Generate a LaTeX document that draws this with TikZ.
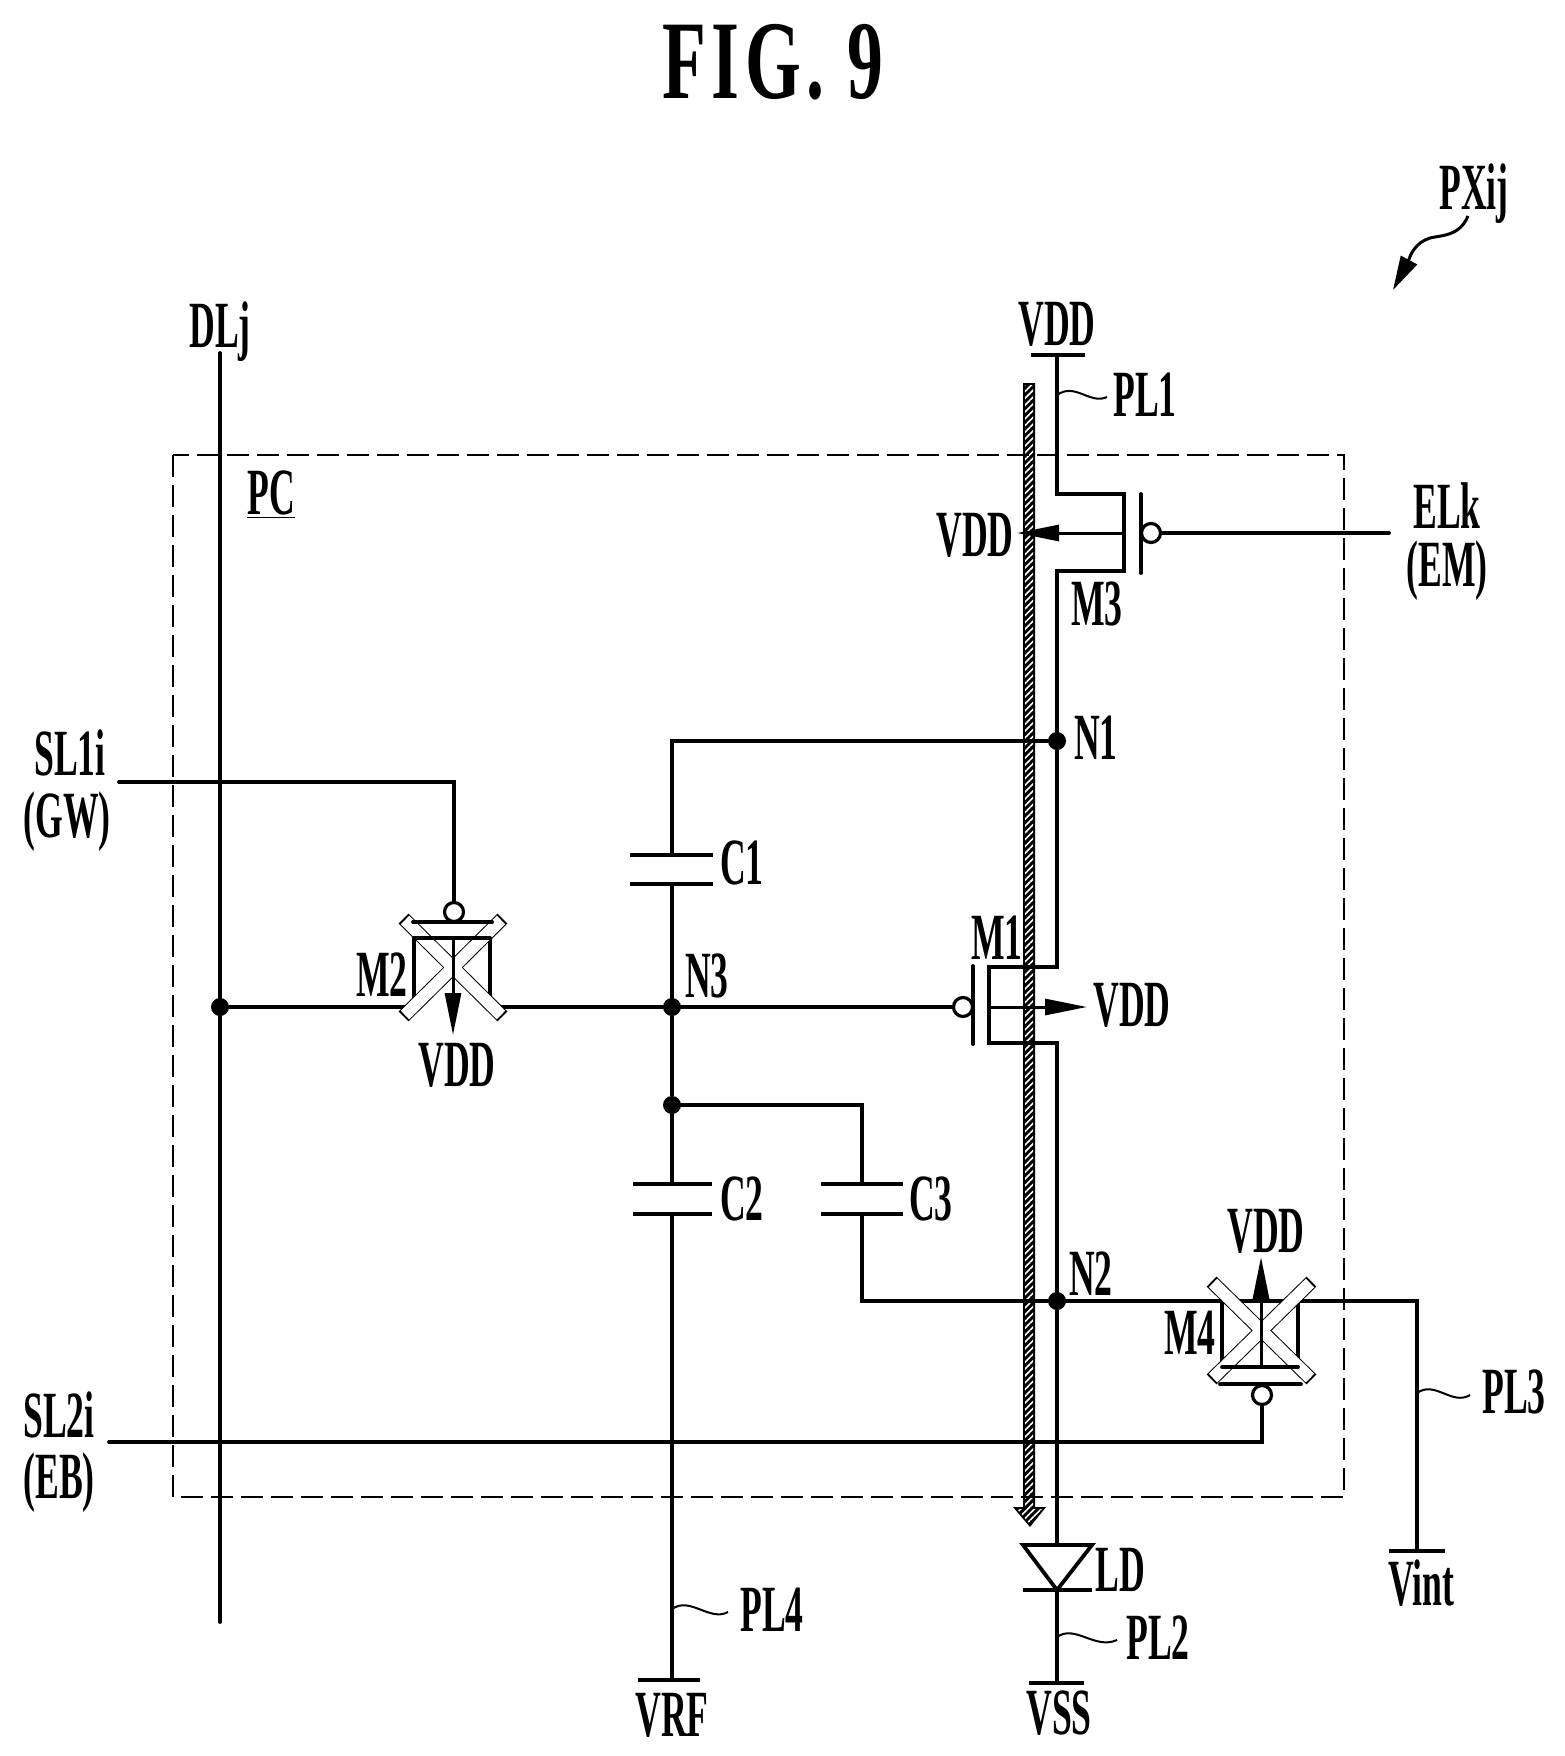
\documentclass[tikz,border=0pt]{standalone}
\usepackage{fontspec}
\setmainfont[FakeStretch=0.54]{Liberation Serif}
\newfontfamily\titlefont[FakeStretch=0.64,LetterSpace=5]{Liberation Serif}
\usetikzlibrary{arrows.meta,patterns.meta}
\tikzset{
  wire/.style={line width=1.9pt,line cap=round,line join=miter},
  thinw/.style={line width=1.0pt},
  lab/.style={inner sep=0pt,text height=22pt,text depth=0pt,font=\bfseries\fontsize{33}{36}\selectfont},
  plate/.style={line width=1.9pt},
  dotn/.style={circle,fill=black,inner sep=0pt,minimum size=9pt},
  bub/.style={circle,draw=black,fill=white,line width=1.6pt,inner sep=0pt,minimum size=9.5pt},
  hatchf/.style={pattern={Lines[angle=45,distance=2.4pt,line width=.8pt]},pattern color=white},
  arr/.style={line width=1.5pt,-{Triangle[length=21pt,width=8pt]}},
  barout/.style={line width=7pt,draw=black,shorten <=-1pt,shorten >=-1pt},
  barin/.style={line width=6pt,draw=white},
}
\newcommand{\crossbars}[4]{%
  \draw[barout] (#1)--(#2); \draw[barout] (#3)--(#4);
  \draw[barin] (#1)--(#2); \draw[barin] (#3)--(#4);}
\begin{document}
\begin{tikzpicture}[x=0.5pt,y=-0.5pt]
\useasboundingbox (0,0) rectangle (1564,1756);
% hatched current path
\path[fill=black] (1023,383)--(1035,383)--(1035,1507)--(1046,1507)--(1030,1527)--(1013,1507)--(1023,1507)--cycle;
\path[hatchf] (1025,385)--(1033,385)--(1033,1509)--(1042,1509)--(1030,1524)--(1017,1509)--(1025,1509)--cycle;
% dashed pixel circuit boundary
\draw[line width=1pt,dash pattern=on 11pt off 4pt] (173,455) rectangle (1344,1497);
% coordinates
\coordinate (vddT) at (1057,355);
\coordinate (m3t) at (1057,494);
\coordinate (m3tr) at (1124,494);
\coordinate (m3br) at (1124,571);
\coordinate (m3b) at (1057,571);
\coordinate (m1t) at (1057,967);
\coordinate (m1tl) at (989,967);
\coordinate (m1bl) at (989,1043);
\coordinate (m1b) at (1057,1043);
\coordinate (ldt) at (1057,1545);
\coordinate (ldb) at (1057,1590);
\coordinate (vssT) at (1057,1683);
\coordinate (dlT) at (220,353);
\coordinate (dlB) at (220,1622);
\coordinate (elkE) at (1389,533);
\coordinate (sl1E) at (119,782);
\coordinate (sl1C) at (454,782);
\coordinate (sl2E) at (109,1442);
\coordinate (sl2C) at (1262,1442);
\coordinate (vrfT) at (672,1680);
\coordinate (c1t) at (672,855);
\coordinate (c1b) at (672,884);
\coordinate (c2t) at (672,1184);
\coordinate (c2b) at (672,1214);
\coordinate (c3t) at (862,1184);
\coordinate (c3b) at (862,1214);
\coordinate (n1c) at (672,741);
\coordinate (c3l) at (862,1105);
\coordinate (c3c) at (862,1301);
\coordinate (vintC) at (1417,1301);
\coordinate (vintT) at (1417,1551);
% junction dots
\node[dotn] (N1d) at (1057,741) {};
\node[dotn] (N2d) at (1057,1301) {};
\node[dotn] (N3d) at (672,1007) {};
\node[dotn] (N4d) at (672,1105) {};
\node[dotn] (DLd) at (220,1007) {};
% plain wires
\draw[wire] (dlT)--(DLd)--(dlB);
\draw[wire] (vddT)--(m3t)--(m3tr)--(m3br)--(m3b)--(N1d)--(m1t)--(m1tl)--(m1bl)--(m1b)--(N2d)--(ldt);
\draw[wire] (ldb)--(vssT);
\draw[wire] (c1t)--(n1c)--(N1d);
\draw[wire] (c1b)--(N3d)--(N4d)--(c2t);
\draw[wire] (c2b)--(vrfT);
\draw[wire] (N4d)--(c3l)--(c3t);
\draw[wire] (c3b)--(c3c)--(N2d);
\draw[wire] (N2d)--(1298,1301);
\draw[wire] (1298,1301)--(vintC)--(vintT);
\draw[wire] (sl2E)--(sl2C)--(1262,1404);
\draw[wire] (sl1E)--(sl1C)--(454,903);
\draw[wire] (DLd)--(414,1007);
\draw[wire] (490,1007)--(N3d)--(954,1007);
% capacitor plates
\draw[plate] (630,855)--(713,855) (630,884)--(713,884);
\draw[plate] (633,1184)--(712,1184) (633,1214)--(712,1214);
\draw[plate] (821,1184)--(903,1184) (821,1214)--(903,1214);
% supply bars
\draw[plate] (1031,355)--(1085,355);
\draw[plate] (1029,1683)--(1084,1683);
\draw[plate] (638,1680)--(700,1680);
\draw[plate] (1389,1551)--(1445,1551);
% M3
\draw[wire] (1141,494)--(1141,573);
\node[bub] (b3) at (1151,533) {};
\draw[wire] (b3)--(elkE);
\draw[arr] (1124,533)--(1017,533);
% M1
\draw[wire] (973,966)--(973,1044);
\node[bub] (b1) at (963,1007) {};
\draw[arr] (989,1007)--(1087,1007);
% M2
\draw[wire] (414,938)--(414,1007) (490,938)--(490,1007);
\crossbars{405,920}{501,1015}{501,920}{405,1015}
\draw[wire] (414,938)--(490,938);
\draw[wire] (413,922)--(492,922);
\node[bub] (b2) at (454,912) {};
\draw[arr] (453,938)--(453,1035);
% M4
\draw[wire] (1222,1301)--(1222,1367) (1298,1301)--(1298,1367);
\crossbars{1213,1283}{1310,1378}{1310,1283}{1213,1378}
\draw[wire] (1222,1367)--(1298,1367);
\draw[wire] (1220,1384)--(1301,1384);
\node[bub] (b4) at (1262,1395) {};
\draw[arr] (1261,1367)--(1261,1257);
% diode
\draw[wire,line join=miter] (1023,1545)--(1092,1545)--(ldb)--cycle;
\draw[plate] (1023,1590)--(1092,1590);
% label squiggles
\draw[thinw] (1057,395) .. controls (1075,382) and (1090,405) .. (1107,397);
\draw[thinw] (1057,1637) .. controls (1075,1624) and (1095,1650) .. (1117,1640);
\draw[thinw] (672,1609) .. controls (690,1596) and (710,1622) .. (728,1612);
\draw[thinw] (1417,1393) .. controls (1435,1380) and (1452,1406) .. (1470,1395);
\draw[line width=1.5pt,-{Triangle[length=17pt,width=9pt]}] (1468,216) .. controls (1458,240) and (1435,234) .. (1425,240) .. controls (1412,246) and (1408,262) .. (1393,290);
% text
\node[inner sep=0pt,font=\titlefont\bfseries\fontsize{56}{60}\selectfont] (title) at (773,62) {FIG. 9};
\node[lab] (pxij) at (1474,187) {PXij};
\node[lab] (dlj) at (220,325) {DLj};
\node[lab] (vdd1) at (1057,323) {VDD};
\node[lab] (pl1) at (1145,394) {PL1};
\node[lab] (pc) at (271,492) {\underline{PC}};
\node[lab] (vdd3) at (975,534) {VDD};
\node[lab] (m3) at (1097,603) {M3};
\node[lab] (elk) at (1447,506) {ELk};
\node[lab] (em) at (1447,564) {(EM)};
\node[lab] (n1) at (1096,737) {N1};
\node[lab] (m1) at (997,937) {M1};
\node[lab] (vdd4) at (1132,1004) {VDD};
\node[lab] (c1) at (742,862) {C1};
\node[lab] (n3) at (707,975) {N3};
\node[lab] (m2) at (382,974) {M2};
\node[lab] (vdd2) at (457,1064) {VDD};
\node[lab] (c2) at (742,1198) {C2};
\node[lab] (c3) at (931,1198) {C3};
\node[lab] (n2) at (1091,1273) {N2};
\node[lab] (m4) at (1190,1332) {M4};
\node[lab] (vdd5) at (1266,1230) {VDD};
\node[lab] (pl3) at (1514,1391) {PL3};
\node[lab] (sl2) at (59,1415) {SL2i};
\node[lab] (eb) at (59,1476) {(EB)};
\node[lab] (sl1) at (70,753) {SL1i};
\node[lab] (gw) at (67,815) {(GW)};
\node[lab] (pl4) at (772,1609) {PL4};
\node[lab] (vrf) at (672,1714) {VRF};
\node[lab] (vint) at (1421,1583) {Vint};
\node[lab] (ld) at (1120,1569) {LD};
\node[lab] (pl2) at (1158,1637) {PL2};
\node[lab] (vss) at (1059,1712) {VSS};
\end{tikzpicture}
\end{document}
